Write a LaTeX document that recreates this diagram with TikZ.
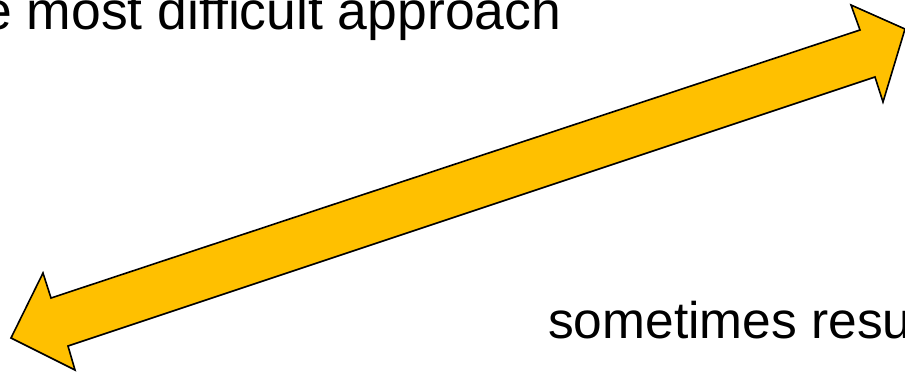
\documentclass[tikz,border=0pt]{standalone}
\usepackage{fontspec}
\setmainfont{Liberation Sans}
\definecolor{arrowfill}{HTML}{FFC000}
\tikzset{
  bigarrow/.style={draw=black, line width=1.6pt, fill=arrowfill, line join=miter},
  caption/.style={anchor=base west, inner sep=0pt}
}
\begin{document}
\begin{tikzpicture}[x=1pt,y=-1pt]
\useasboundingbox (0,0) rectangle (905,373);
\fill[white] (0,0) rectangle (905,373);
\draw[bigarrow] (11,338) -- (43,273) -- (51,298) -- (860,30) -- (851,5) -- (905,29)
  -- (883,102) -- (875,77) -- (68,346) -- (75,370) -- cycle;
\node[caption, font=\fontsize{53.5}{60}\selectfont] (top) at (-18,29) {e most difficult approach};
\node[caption, font=\fontsize{51.5}{60}\selectfont] (bottom) at (548,338) {sometimes resu};
\end{tikzpicture}
\end{document}
